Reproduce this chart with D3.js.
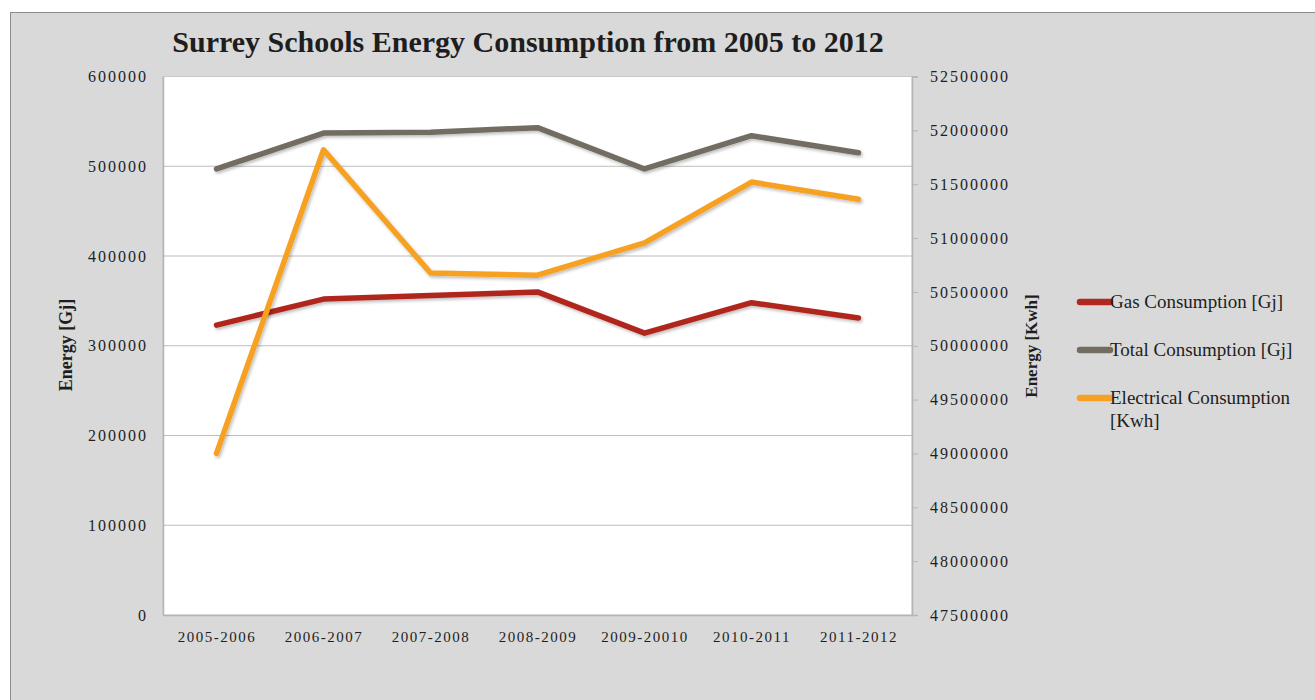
<!DOCTYPE html>
<html>
<head>
<meta charset="utf-8">
<script src="https://cdn.jsdelivr.net/npm/d3@7"></script>
<style>
  html, body { margin: 0; padding: 0; background: #ffffff; }
  svg { display: block; }
  text { font-family: "Liberation Serif", "DejaVu Serif", serif; fill: #1e1e1e; }
</style>
</head>
<body>
<svg id="chart" width="1315" height="700"></svg>
<script>
const categories = ["2005-2006", "2006-2007", "2007-2008", "2008-2009", "2009-20010", "2010-2011", "2011-2012"];
const gasConsumption = [323000, 352000, 356000, 360000, 314000, 348000, 331000];
const totalConsumption = [497000, 537000, 538000, 543000, 497000, 534000, 515000];
const electricalConsumption = [49000000, 51820000, 50675000, 50655000, 50955000, 51520000, 51360000];
const leftTicks = [0, 100000, 200000, 300000, 400000, 500000, 600000];
const rightTicks = [47500000, 48000000, 48500000, 49000000, 49500000, 50000000, 50500000, 51000000, 51500000, 52000000, 52500000];

const series = [
  { name: "Gas Consumption [Gj]", values: gasConsumption, axis: "left", color: "#b0281f" },
  { name: "Total Consumption [Gj]", values: totalConsumption, axis: "left", color: "#736c62" },
  { name: "Electrical Consumption [Kwh]", values: electricalConsumption, axis: "right", color: "#f7a124" }
];

const svg = d3.select("#chart");
const plot = { left: 163, top: 76.5, right: 912, bottom: 615 };

// outer chart frame
svg.append("rect").attr("x", 13).attr("y", 15).attr("width", 1320).attr("height", 700)
  .attr("fill", "#cfcfcf");
svg.append("rect").attr("x", 10.5).attr("y", 12.5).attr("width", 1320).attr("height", 700)
  .attr("fill", "#d9d9d9").attr("stroke", "#8c8c8c").attr("stroke-width", 1);

// plot area
svg.append("rect").attr("x", plot.left).attr("y", plot.top)
  .attr("width", plot.right - plot.left).attr("height", plot.bottom - plot.top)
  .attr("fill", "#ffffff").attr("stroke", "#c8c8c8");

const x = d3.scalePoint().domain(categories).range([plot.left, plot.right]).padding(0.5);
const yL = d3.scaleLinear().domain([0, 600000]).range([plot.bottom, plot.top]);
const yR = d3.scaleLinear().domain([47500000, 52500000]).range([plot.bottom, plot.top]);

// gridlines
svg.append("g").selectAll("line").data(leftTicks.slice(1, -1)).join("line")
  .attr("x1", plot.left).attr("x2", plot.right)
  .attr("y1", d => yL(d)).attr("y2", d => yL(d))
  .attr("stroke", "#bdbdbd").attr("stroke-width", 1);

const tickStyle = sel => sel.style("font-size", "16px").style("letter-spacing", "2px")
  .style("font-family", "Liberation Serif, serif").attr("fill", "#1e1e1e");

// left axis
const gL = svg.append("g").attr("transform", `translate(${plot.left},0)`)
  .call(d3.axisLeft(yL).tickValues(leftTicks).tickSize(0).tickPadding(15).tickFormat(d3.format("d")));
gL.select(".domain").attr("stroke", "#b5b5b5").attr("stroke-width", 1.5);
gL.selectAll("text").call(tickStyle);

// right axis
const gR = svg.append("g").attr("transform", `translate(${plot.right},0)`)
  .call(d3.axisRight(yR).tickValues(rightTicks).tickSize(6).tickPadding(12).tickFormat(d3.format("d")));
gR.select(".domain").attr("stroke", "#b5b5b5").attr("stroke-width", 1.5);
gR.selectAll(".tick line").attr("stroke", "#b5b5b5");
gR.selectAll("text").call(tickStyle);

// bottom axis
const gB = svg.append("g").attr("transform", `translate(0,${plot.bottom})`)
  .call(d3.axisBottom(x).tickSize(0).tickPadding(16));
gB.select(".domain").attr("stroke", "#b5b5b5").attr("stroke-width", 1.5);
gB.selectAll("text").style("font-size", "15px").style("letter-spacing", "1.5px")
  .style("font-family", "Liberation Serif, serif").attr("fill", "#1e1e1e");

// shadow filter
const defs = svg.append("defs");
const f = defs.append("filter").attr("id", "shadow").attr("x", "-10%").attr("y", "-10%").attr("width", "120%").attr("height", "130%");
f.append("feDropShadow").attr("dx", 1.5).attr("dy", 2).attr("stdDeviation", 1.5).attr("flood-color", "#000").attr("flood-opacity", 0.25);

// lines
const lineL = d3.line().x((d, i) => x(categories[i])).y(d => yL(d));
const lineR = d3.line().x((d, i) => x(categories[i])).y(d => yR(d));
svg.append("g").selectAll("path").data(series).join("path")
  .attr("d", s => (s.axis === "left" ? lineL : lineR)(s.values))
  .attr("fill", "none").attr("stroke", s => s.color).attr("stroke-width", 5.5)
  .attr("stroke-linejoin", "round").attr("stroke-linecap", "round")
  .attr("filter", "url(#shadow)");

// title
svg.append("text").attr("x", 528).attr("y", 52).attr("text-anchor", "middle")
  .style("font-size", "30px").style("font-weight", "bold")
  .text("Surrey Schools Energy Consumption from 2005 to 2012");

// axis titles
svg.append("text").attr("transform", "translate(72,345) rotate(-90)").attr("text-anchor", "middle")
  .style("font-size", "18px").style("font-weight", "bold").text("Energy [Gj]");
svg.append("text").attr("transform", "translate(1037,346) rotate(-90)").attr("text-anchor", "middle")
  .style("font-size", "17px").style("font-weight", "bold").text("Energy [Kwh]");

// legend
const legendY = [302, 350, 398];
const lg = svg.append("g").selectAll("g").data(series).join("g")
  .attr("transform", (d, i) => `translate(1080,${legendY[i]})`);
lg.append("line").attr("x1", 0).attr("x2", 30).attr("y1", 0).attr("y2", 0)
  .attr("stroke", d => d.color).attr("stroke-width", 6.5).attr("stroke-linecap", "round");
lg.append("text").attr("x", 30).attr("y", 6).style("font-size", "19px")
  .each(function(d) {
    const t = d3.select(this);
    if (d.name.startsWith("Electrical")) {
      t.append("tspan").attr("x", 30).attr("dy", 0).text("Electrical Consumption");
      t.append("tspan").attr("x", 30).attr("dy", 23).text("[Kwh]");
    } else {
      t.text(d.name);
    }
  });
</script>
</body>
</html>
